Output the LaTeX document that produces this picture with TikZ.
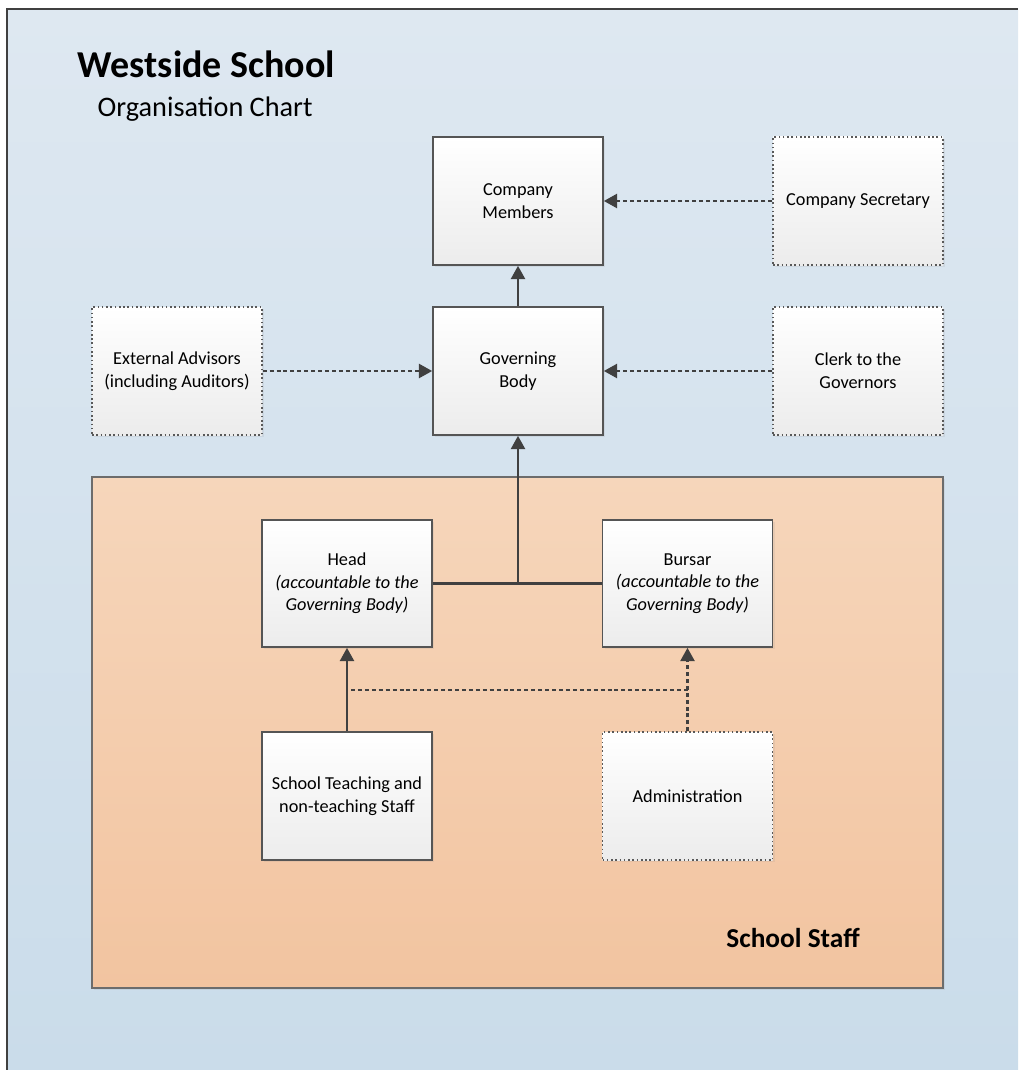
\documentclass[tikz,border=0pt]{standalone}
\usepackage{fontspec}
\setmainfont{Carlito}
\usetikzlibrary{arrows.meta,shadows,calc}
\definecolor{bgtop}{RGB}{222,232,241}
\definecolor{bgbot}{RGB}{202,220,234}
\definecolor{ortop}{RGB}{246,214,187}
\definecolor{orbot}{RGB}{242,196,160}
\definecolor{boxbot}{RGB}{236,236,236}
\definecolor{linec}{RGB}{64,64,64}
\definecolor{boxline}{RGB}{85,85,85}
\tikzset{
  orgbox/.style={rectangle, draw=boxline, line width=1.2pt, top color=white, bottom color=boxbot,
    minimum width=127.5pt, minimum height=96pt, align=center, inner sep=2pt,
    font=\fontsize{13.7}{17}\selectfont,
    drop shadow={opacity=0.12, shadow xshift=1.5pt, shadow yshift=-1.5pt}},
  dotbox/.style={orgbox, draw=gray!70!black, dotted, line width=1pt},
  conn/.style={draw=linec, line width=1.9pt},
  arr/.style={conn, -{Triangle[length=10pt,width=10.5pt]}},
  darr/.style={arr, dash pattern=on 3pt off 2.2pt},
  dline/.style={conn, dash pattern=on 3pt off 2.2pt},
}
\begin{document}
\begin{tikzpicture}[x=0.75pt,y=-0.75pt]
\useasboundingbox (0,0) rectangle (1018,1070);
\fill[white] (0,0) rectangle (1018,1070);
\shade[top color=bgtop, bottom color=bgbot] (8,9) rectangle (1018,1070);
\draw[linec, line width=1.5pt] (7,1070) -- (7,9) -- (1018,9);

\node[anchor=base west, font=\fontsize{28.5}{32}\selectfont\bfseries] (title) at (73,78) {Westside School};
\node[anchor=base west, font=\fontsize{21.2}{24}\selectfont] (subtitle) at (93,117) {Organisation Chart};

\node[rectangle, draw=gray!85!black, line width=0.8pt, top color=ortop, bottom color=orbot,
  minimum width=638.25pt, minimum height=383.25pt,
  drop shadow={opacity=0.12, shadow xshift=1.5pt, shadow yshift=-1.5pt}] (staff) at (517.5,732.5) {};
\node[font=\fontsize{20.5}{24}\selectfont\bfseries] (stafflabel) at (793,938) {School Staff};

\node[orgbox] (cm) at (518,201) {Company\\Members};
\node[dotbox] (cs) at (858,201) {Company Secretary};
\node[dotbox] (ea) at (177,371) {External Advisors\\(including Auditors)};
\node[orgbox] (gb) at (518,371) {Governing\\Body};
\node[dotbox] (cg) at (858,371) {Clerk to the\\Governors};
\node[orgbox, minimum height=95.25pt] (head) at (347,583.5) {Head\\\textit{(accountable to the}\\\textit{Governing Body)}};
\node[orgbox, minimum height=95.25pt] (bursar) at (687.5,583.5) {Bursar\\\textit{(accountable to the}\\\textit{Governing Body)}};
\node[orgbox] (teach) at (347,796) {School Teaching and\\non-teaching Staff};
\node[dotbox] (admin) at (687.5,796) {Administration};

\draw[arr] (gb) -- (cm);
\draw[darr] (cs) -- (cm);
\draw[darr] (ea) -- (gb);
\draw[darr] (cg) -- (gb);
\coordinate (junc) at (gb.south |- head.east);
\draw[conn] (head.east) -- (bursar.west);
\draw[arr] (junc) -- (gb.south);
\draw[arr] (teach.north) -- (head.south);
\draw[darr] (admin.north) -- (bursar.south);
\coordinate (dl) at ($(teach.north |- 0,690)+(4,0)$);
\coordinate (dr) at (admin.north |- 0,690);
\draw[dline] (dl) -- (dr);
\end{tikzpicture}
\end{document}
